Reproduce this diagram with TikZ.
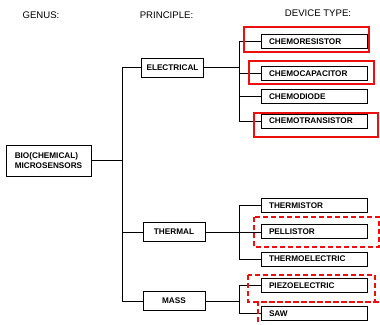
\documentclass[tikz,border=0pt]{standalone}
\usepackage{fontspec}
\setmainfont{Liberation Sans}
\usepackage{tikz}
\usetikzlibrary{positioning}
\definecolor{markred}{rgb}{0.92,0.06,0.06}
\tikzset{
  hdr/.style={font=\fontsize{9.6}{11}\selectfont},
  boxtxt/.style={font=\fontsize{8.2}{9.4}\selectfont\bfseries},
  genbox/.style={boxtxt,draw,line width=0.9pt,align=left,minimum width=85pt,minimum height=31pt,inner xsep=5pt},
  prinbox/.style={boxtxt,draw,line width=0.9pt,minimum width=62pt,minimum height=19pt,inner xsep=2pt},
  devbox/.style={boxtxt,draw,line width=0.9pt,text width=90pt,inner xsep=8pt,inner ysep=0pt,minimum height=14pt,align=left},
  link/.style={line width=0.8pt},
  markA/.style={markred,line width=1.2pt},
  markB/.style={markred,line width=1.2pt,dash pattern=on 5pt off 3pt},
}
\begin{document}
\begin{tikzpicture}[x=1pt,y=-1pt]
  \useasboundingbox (0,0) rectangle (380,324);
  % column titles
  \node[hdr] (tgen) at (41,15) {GENUS:};
  \node[hdr] (tpri) at (166.5,15) {PRINCIPLE:};
  \node[hdr] (tdev) at (318,13) {DEVICE TYPE:};
  % genus and principles
  \node[genbox] (bio) at (48.5,160.5) {BIO(CHEMICAL)\\MICROSENSORS};
  \node[prinbox] (elec) at (172.5,67.5) {ELECTRICAL};
  \node[prinbox] (therm) at (174,232) {THERMAL};
  \node[prinbox] (mass) at (174,301) {MASS};
  % device types
  \node[devbox] (chres) at (314,41.5) {CHEMORESISTOR};
  \node[devbox] (chcap) at (314,73.5) {CHEMOCAPACITOR};
  \node[devbox] (chdio) at (314,96.5) {CHEMODIODE};
  \node[devbox] (chtr) at (314,121) {CHEMOTRANSISTOR};
  \node[devbox] (thmr) at (314,205.5) {THERMISTOR};
  \node[devbox] (pell) at (314,231.5) {PELLISTOR};
  \node[devbox] (thel) at (314,259) {THERMOELECTRIC};
  \node[devbox] (piezo) at (314,285.5) {PIEZOELECTRIC};
  \node[devbox] (saw) at (314,313.5) {SAW};
  % bracket columns
  \coordinate (trunk) at (122,0);
  \coordinate (brk) at (239,0);
  % genus -> principle
  \draw[link] (bio.east) -- (bio.east -| trunk);
  \draw[link] (elec.west) -- (elec.west -| trunk) -- (mass.west -| trunk) -- (mass.west);
  \draw[link] (therm.west) -- (therm.west -| trunk);
  % electrical
  \draw[link] (elec.east) -- (elec.east -| brk);
  \draw[link] (chres.west) -- (chres.west -| brk) -- (chtr.west -| brk) -- (chtr.west);
  \draw[link] (chcap.west) -- (chcap.west -| brk);
  \draw[link] (chdio.west) -- (chdio.west -| brk);
  % thermal
  \draw[link] (therm.east) -- (therm.east -| pell.west);
  \draw[link] (thmr.west) -- (thmr.west -| brk) -- (thel.west -| brk) -- (thel.west);
  % mass
  \draw[link] (mass.east) -- (mass.east -| brk);
  \draw[link] (piezo.west) -- (piezo.west -| brk) -- (saw.west -| brk) -- (saw.west);
  % red marks
  \draw[markA] (244,27) rectangle (369,52);
  \draw[markA] (249,61) rectangle (374,84);
  \draw[markA] (254,113) rectangle (378,137);
  \draw[markB] (254,217) rectangle (379,247);
  \draw[markB] (248,275) rectangle (375,302);
  \draw[markB] (258,330) -- (258,302) -- (386,302);
\end{tikzpicture}
\end{document}
